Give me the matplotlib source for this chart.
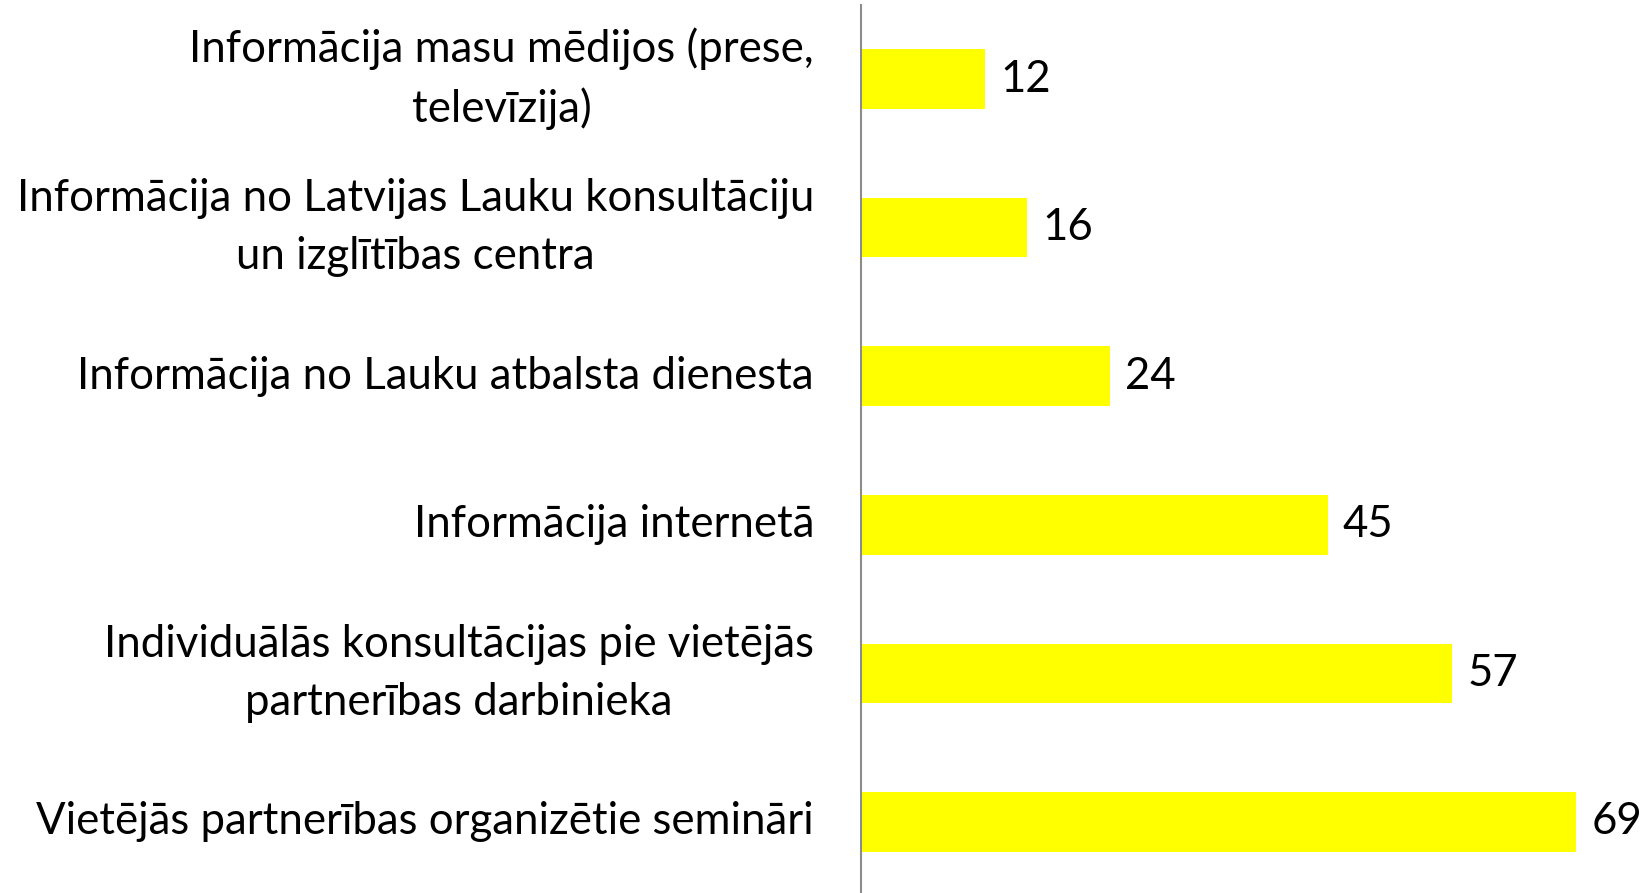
import numpy as np
import matplotlib.pyplot as plt

plt.rcParams['font.family'] = ['Lato', 'DejaVu Sans']

labels = ['Informācija masu mēdijos (prese,\ntelevīzija)',
          'Informācija no Latvijas Lauku konsultāciju\nun izglītības centra',
          'Informācija no Lauku atbalsta dienesta',
          'Informācija internetā',
          'Individuālās konsultācijas pie vietējās\npartnerības darbinieka',
          'Vietējās partnerības organizētie semināri']
values = [12, 16, 24, 45, 57, 69]


def draw_chart(labels, values):
    fig = plt.figure(figsize=(16.52, 8.93), dpi=100)
    ax = fig.add_axes([861 / 1652, 0, 791 / 1652, 888 / 893])
    y = np.arange(len(values))
    ax.barh(y, values, height=0.4, color='#ffff00')
    ax.set_xlim(0, 76.3)
    ax.set_ylim(5.478, -0.498)
    ax.set_yticks(y)
    ax.set_yticklabels(labels, fontsize=31.5, linespacing=1.5, ha='center', va='center')
    ax.tick_params(axis='y', length=0, pad=0)
    ax.set_xticks([])
    for s in ['top', 'right', 'bottom']:
        ax.spines[s].set_visible(False)
    ax.spines['left'].set_color('#8c8c8c')
    ax.spines['left'].set_linewidth(1.5)
    for yi, v in zip(y, values):
        ax.annotate(str(v), (v, yi), xytext=(11, 0), textcoords='offset points',
                    va='center', ha='left', fontsize=31.5)
    return fig, ax


fig, ax = draw_chart(labels, values)
# centred multi-line labels, right edge of the block ~47px left of the axis
fig.canvas.draw()
renderer = fig.canvas.get_renderer()
for lab in ax.get_yticklabels():
    bb = lab.get_window_extent(renderer)
    width_ax = bb.width / ax.bbox.width
    lab.set_x(-(47 / 791) - width_ax / 2)
fig.savefig('out.png', dpi=100)
